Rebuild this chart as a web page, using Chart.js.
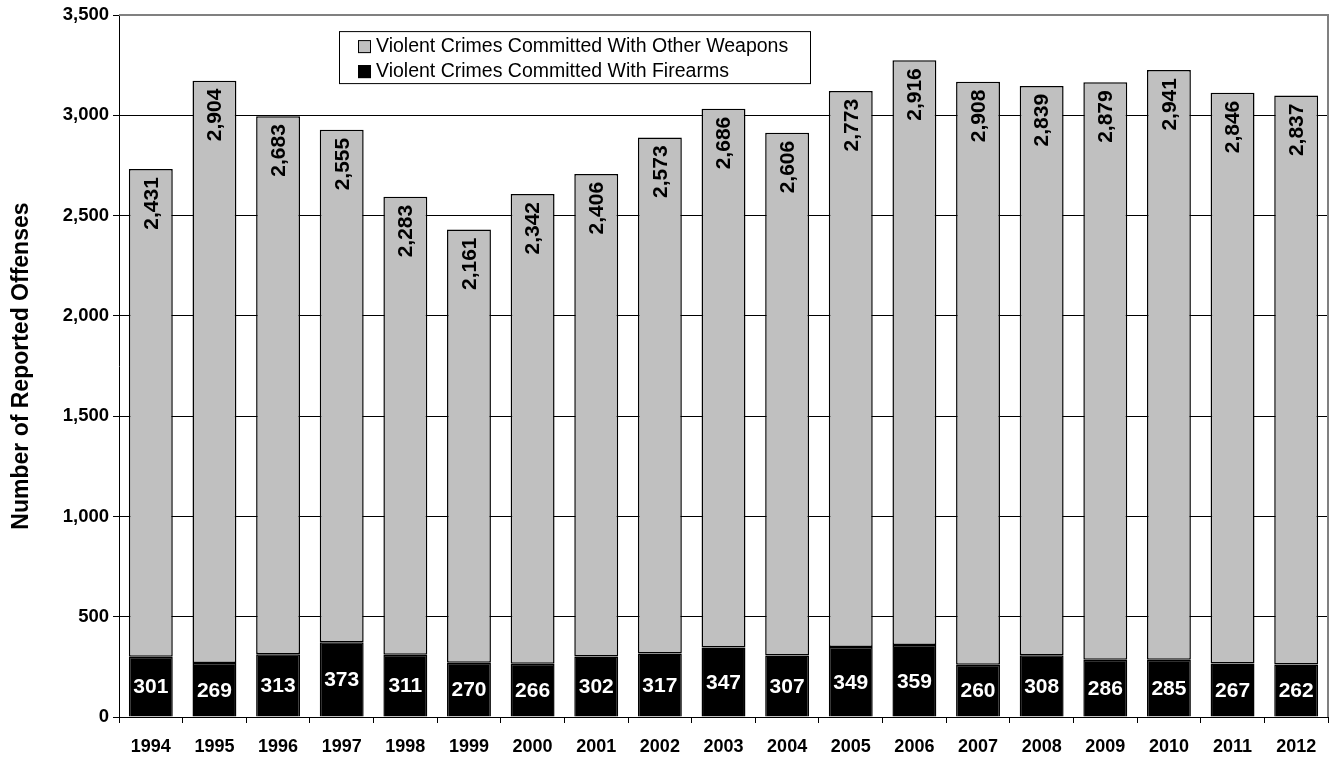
<!DOCTYPE html>
<html>
<head>
<meta charset="utf-8">
<script src="https://cdn.jsdelivr.net/npm/chart.js@4"></script>
<style>
  html, body { margin: 0; padding: 0; background: #fff; }
  #wrap { width: 1333px; height: 759px; }
</style>
</head>
<body>
<div id="wrap"><canvas id="chart" width="1333" height="759"></canvas></div>
<script>
// Datos
const years = ['1994', '1995', '1996', '1997', '1998', '1999', '2000', '2001', '2002', '2003',
               '2004', '2005', '2006', '2007', '2008', '2009', '2010', '2011', '2012'];
const firearms = [301, 269, 313, 373, 311, 270, 266, 302, 317, 347, 307, 349, 359, 260, 308, 286, 285, 267, 262];
const otherWeapons = [2431, 2904, 2683, 2555, 2283, 2161, 2342, 2406, 2573, 2686, 2606, 2773, 2916, 2908, 2839, 2879, 2941, 2846, 2837];
const yTicks = [0, 500, 1000, 1500, 2000, 2500, 3000, 3500];
const yTitle = 'Number of Reported Offenses';

const fmt = v => v.toLocaleString('en-US');
const FONT = '"Liberation Sans", Arial, sans-serif';

document.addEventListener('DOMContentLoaded', () => {
    // --- ETIQUETAS DE VALOR ---
    const valueLabels = {
        id: 'valueLabels',
        afterDatasetsDraw(chart) {
            const ctx = chart.ctx;
            ctx.save();
            // armas de fuego: blanco, centrado en el segmento negro
            const m0 = chart.getDatasetMeta(0);
            ctx.font = 'bold 21px ' + FONT;
            ctx.fillStyle = '#fff';
            ctx.textAlign = 'center';
            ctx.textBaseline = 'middle';
            m0.data.forEach((bar, i) => {
                ctx.fillText(fmt(firearms[i]), bar.x, (bar.y + bar.base) / 2 + 1);
            });
            // otras armas: negro, girado, junto al tope de la barra
            const m1 = chart.getDatasetMeta(1);
            ctx.font = 'bold 21px ' + FONT;
            ctx.fillStyle = '#000';
            ctx.textAlign = 'right';
            m1.data.forEach((bar, i) => {
                ctx.save();
                ctx.translate(bar.x + 1, bar.y + 8);
                ctx.rotate(-Math.PI / 2);
                ctx.fillText(fmt(otherWeapons[i]), 0, 0);
                ctx.restore();
            });
            ctx.restore();
        }
    };

    // --- MARCO, TÍTULO DEL EJE Y LEYENDA ---
    const frameLegend = {
        id: 'frameLegend',
        afterDraw(chart) {
            const ctx = chart.ctx;
            const a = chart.chartArea;
            ctx.save();
            ctx.strokeStyle = '#808080';
            ctx.lineWidth = 2;
            ctx.beginPath();
            ctx.moveTo(a.left, a.top);
            ctx.lineTo(a.right, a.top);
            ctx.lineTo(a.right, a.bottom);
            ctx.stroke();

            // título del eje Y
            ctx.save();
            ctx.translate(28, (a.top + a.bottom) / 2);
            ctx.rotate(-Math.PI / 2);
            ctx.font = 'bold 23px ' + FONT;
            ctx.fillStyle = '#000';
            ctx.textAlign = 'center';
            ctx.textBaseline = 'alphabetic';
            ctx.fillText(yTitle, 0, 0);
            ctx.restore();

            // caja de leyenda
            const lx = a.left + 220, ly = a.top + 16, lw = 471, lh = 52;
            ctx.fillStyle = '#fff';
            ctx.fillRect(lx, ly, lw, lh);
            ctx.strokeStyle = '#000';
            ctx.lineWidth = 1;
            ctx.strokeRect(lx + 0.5, ly + 0.5, lw, lh);

            const items = [chart.data.datasets[1], chart.data.datasets[0]];
            ctx.font = '19.5px ' + FONT;
            ctx.textAlign = 'left';
            ctx.textBaseline = 'middle';
            items.forEach((ds, k) => {
                const cy = ly + 15 + k * 25;
                ctx.fillStyle = ds.backgroundColor;
                ctx.fillRect(lx + 19, cy - 6, 13, 13);
                ctx.strokeStyle = '#000';
                ctx.strokeRect(lx + 19.5, cy - 5.5, 12, 12);
                ctx.fillStyle = '#000';
                ctx.fillText(ds.label, lx + 37, cy + 1);
            });
            ctx.restore();
        }
    };

    const ctx = document.getElementById('chart').getContext('2d');
    new Chart(ctx, {
        type: 'bar',
        data: {
            labels: years,
            datasets: [
                { label: 'Violent Crimes Committed With Firearms', data: firearms,
                  backgroundColor: '#000000', borderColor: '#000', borderWidth: 1.5 },
                { label: 'Violent Crimes Committed With Other Weapons', data: otherWeapons,
                  backgroundColor: '#c0c0c0', borderColor: '#000', borderWidth: 1.5, borderSkipped: false }
            ]
        },
        options: {
            responsive: false,
            animation: false,
            layout: { padding: { top: 15, right: 5, left: 0, bottom: 0 } },
            datasets: { bar: { categoryPercentage: 1, barPercentage: 0.69 } },
            plugins: { legend: { display: false }, tooltip: { enabled: false } },
            scales: {
                x: {
                    stacked: true,
                    offset: true,
                    grid: { offset: true, drawOnChartArea: false, color: '#000', tickLength: 6 },
                    border: { color: '#000', width: 1 },
                    ticks: { color: '#000', font: { family: FONT, size: 18, weight: 'bold' }, padding: 13, maxRotation: 0 },
                    afterFit: s => { s.height = 42; }
                },
                y: {
                    stacked: true,
                    min: 0, max: 3500,
                    afterBuildTicks: s => { s.ticks = yTicks.map(v => ({ value: v })); },
                    grid: { color: '#000', lineWidth: 1, tickLength: 6 },
                    border: { color: '#000', width: 1 },
                    ticks: { color: '#000', font: { family: FONT, size: 18.5, weight: 'bold' }, padding: 4, callback: v => fmt(v) },
                    afterFit: s => { s.width = 119; }
                }
            }
        },
        plugins: [valueLabels, frameLegend]
    });
});
</script>
</body>
</html>
